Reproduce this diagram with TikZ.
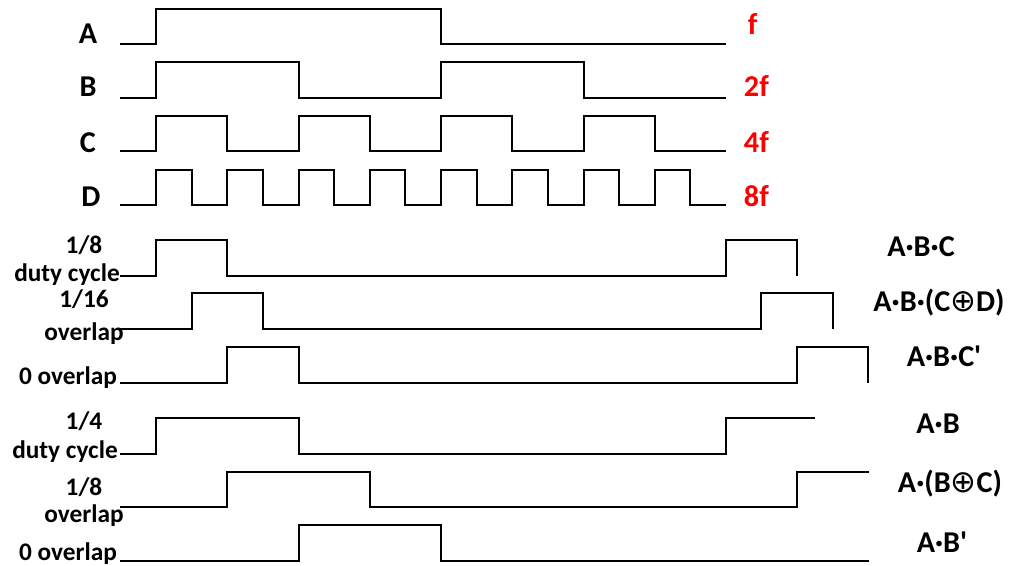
\documentclass[tikz,border=0pt]{standalone}
\usepackage{fontspec}
\setmainfont{Carlito}
\newfontfamily\opfont{DejaVu Sans}
\newcommand{\xorop}{{\opfont\mdseries\fontsize{22}{22}\selectfont ⊕}}

\begin{document}
\begin{tikzpicture}[x=0.025cm, y=-0.025cm, line width=1.4pt,
    lbl/.style={font=\fontsize{18}{20}\selectfont\bfseries, inner sep=0pt, anchor=base},
    big/.style={lbl, font=\fontsize{21.5}{24}\selectfont\bfseries},
    freq/.style={big, red, anchor=base west}]
  \useasboundingbox (0,0) rectangle (1010,565);

  % clocks
  \draw (120,44) -- (156,44) -- (156,9) -- (441,9) -- (441,44) -- (726,44);
  \draw (120,98) -- (156,98) -- (156,62) -- (299,62) -- (299,98) -- (441,98) -- (441,62) -- (584,62) -- (584,98) -- (726,98);
  \draw (120,151) -- (156,151) -- (156,116) -- (227,116) -- (227,151) -- (299,151) -- (299,116) -- (370,116) -- (370,151)
        -- (441,151) -- (441,116) -- (512,116) -- (512,151) -- (584,151) -- (584,116) -- (655,116) -- (655,151) -- (726,151);
  \draw (120,205) -- (156,205) -- (156,170) -- (192,170) -- (192,205) -- (227,205) -- (227,170) -- (263,170) -- (263,205)
        -- (299,205) -- (299,170) -- (334,170) -- (334,205) -- (370,205) -- (370,170) -- (405,170) -- (405,205)
        -- (441,205) -- (441,170) -- (477,170) -- (477,205) -- (512,205) -- (512,170) -- (548,170) -- (548,205)
        -- (584,205) -- (584,170) -- (619,170) -- (619,205) -- (655,205) -- (655,170) -- (690,170) -- (690,205) -- (726,205);

  \node[big] (a) at (88,44) {A};
  \node[big] (b) at (88,97) {B};
  \node[big] (c) at (88,152) {C};
  \node[big] (d) at (91,206) {D};
  \node[freq] (fa) at (747,35) {f};
  \node[freq] (fb) at (743,97) {2f};
  \node[freq] (fc) at (743,152) {4f};
  \node[freq] (fd) at (743,206) {8f};

  % three-input products
  \draw (120,276) -- (156,276) -- (156,240) -- (227,240) -- (227,276) -- (726,276) -- (726,240) -- (797,240) -- (797,276);
  \draw (120,329) -- (192,329) -- (192,293) -- (263,293) -- (263,329) -- (761,329) -- (761,293) -- (833,293) -- (833,329);
  \draw (120,383) -- (227,383) -- (227,347) -- (299,347) -- (299,383) -- (797,383) -- (797,347) -- (868,347) -- (868,383);

  \node[lbl] (p1a) at (84,253) {1/8};
  \node[lbl] (p1b) at (67,281) {duty cycle};
  \node[lbl] (p2a) at (84,307) {1/16};
  \node[lbl] (p2b) at (84,340) {overlap};
  \node[lbl] (p3) at (68,384) {0 overlap};
  \node[big] (e1) at (921,256) {A·B·C};
  \node[big] (e2) at (939,311) {A·B·(C\xorop D)};
  \node[big] (e3) at (944,366) {A·B·C\textquotesingle};

  % two-input products
  \draw (120,454) -- (156,454) -- (156,418) -- (299,418) -- (299,454) -- (726,454) -- (726,418) -- (815,418);
  \draw (120,507) -- (227,507) -- (227,472) -- (370,472) -- (370,507) -- (797,507) -- (797,472) -- (869,472);
  \draw (120,561) -- (299,561) -- (299,525) -- (441,525) -- (441,561) -- (869,561);

  \node[lbl] (q1a) at (84,429) {1/4};
  \node[lbl] (q1b) at (65,458) {duty cycle};
  \node[lbl] (q2a) at (84,495) {1/8};
  \node[lbl] (q2b) at (84,522) {overlap};
  \node[lbl] (q3) at (68,560) {0 overlap};
  \node[big] (e4) at (938,433) {A·B};
  \node[big] (e5) at (950,492) {A·(B\xorop C)};
  \node[big] (e6) at (942,552) {A·B\textquotesingle};
\end{tikzpicture}
\end{document}
